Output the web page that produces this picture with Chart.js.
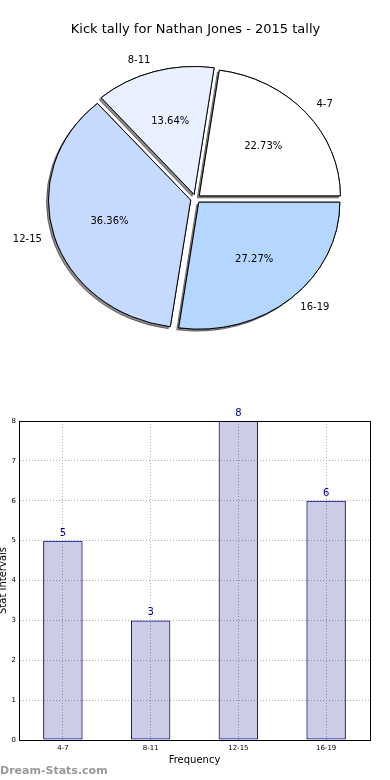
<!DOCTYPE html>
<html>
<head>
<meta charset="utf-8">
<script src="https://cdn.jsdelivr.net/npm/chart.js@4.4.1/dist/chart.umd.min.js"></script>
<style>
  body { margin: 0; background: #fff; width: 390px; height: 780px; position: relative; overflow: hidden; }
  #pieChart { position: absolute; left: 0; top: 0; }
  #barChart { position: absolute; left: 0; top: 390px; }
  #brand { position: absolute; left: 0; top: 764px; font: bold 11px "DejaVu Sans", sans-serif; color: #999; }
</style>
</head>
<body>
<canvas id="pieChart" width="390" height="390"></canvas>
<canvas id="barChart" width="390" height="390"></canvas>
<div id="brand">Dream-Stats.com</div>
<script>
// --- Data ---
const TITLE = 'Kick tally for Nathan Jones - 2015 tally';
const intervals = ['4-7', '8-11', '12-15', '16-19'];
const tally = [5, 3, 8, 6];
const sliceColors = ['#ffffff', '#e9f0ff', '#c6d9ff', '#b4d6ff'];
const Y_MAX = 8;

// --- Look ---
const FONT = 'DejaVu Sans';
const ELLIPSE_Y = 0.9;   // the pie is squashed a little vertically
const EXPLODE = 20;      // arc offset, chart.js moves the slice by a quarter of it
// chart.js goes clockwise, the original goes counter-clockwise from 3 o'clock
const pieOrder = [3, 2, 1, 0];

const total = tally.reduce((a, b) => a + b, 0);

const pieShape = {
    id: 'pieShape',
    beforeDatasetsDraw(chart) {
        const ctx = chart.ctx;
        const arcs = chart.getDatasetMeta(0).data;
        const cx = arcs[0].x, cy = arcs[0].y;
        ctx.save();
        ctx.translate(cx, cy);
        ctx.scale(1, ELLIPSE_Y);
        ctx.translate(-cx, -cy);
        // shadow pass, the normal draw covers it afterwards
        ctx.save();
        ctx.shadowColor = 'rgba(0,0,0,0.45)';
        ctx.shadowOffsetX = -2;
        ctx.shadowOffsetY = 2;
        ctx.shadowBlur = 0;
        arcs.forEach(a => a.draw(ctx));
        ctx.restore();
    },
    afterDatasetsDraw(chart) {
        const ctx = chart.ctx;
        ctx.restore();
        const arcs = chart.getDatasetMeta(0).data;
        ctx.save();
        ctx.fillStyle = '#000';
        ctx.font = '10px "' + FONT + '"';
        ctx.textBaseline = 'middle';
        arcs.forEach((a, i) => {
            const k = pieOrder[i];
            const mid = (a.startAngle + a.endAngle) / 2;
            const shift = (a.options.offset || 0) / 4;
            const R = a.outerRadius;
            const px = r => a.x + Math.cos(mid) * (shift + r);
            const py = r => a.y + Math.sin(mid) * (shift + r) * ELLIPSE_Y;
            ctx.textAlign = Math.cos(mid) > 0 ? 'left' : 'right';
            ctx.fillText(intervals[k], px(1.1 * R), py(1.1 * R));
            ctx.textAlign = 'center';
            ctx.fillText((tally[k] / total * 100).toFixed(2) + '%', px(0.6 * R), py(0.6 * R));
        });
        ctx.restore();
    }
};

const barExtras = {
    id: 'barExtras',
    afterDatasetsDraw(chart) {
        const { ctx, chartArea: a } = chart;
        ctx.save();
        ctx.strokeStyle = '#000';
        ctx.lineWidth = 1;
        ctx.strokeRect(a.left + 0.5, a.top + 0.5, a.width, a.height);
        ctx.fillStyle = '#000080';
        ctx.font = '10px "' + FONT + '"';
        ctx.textAlign = 'center';
        ctx.textBaseline = 'alphabetic';
        chart.getDatasetMeta(0).data.forEach((bar, i) => {
            ctx.fillText(String(tally[i]), bar.x, bar.y - 5);
        });
        ctx.restore();
    }
};

new Chart(document.getElementById('pieChart'), {
    type: 'pie',
    data: {
        labels: pieOrder.map(i => intervals[i]),
        datasets: [{
            data: pieOrder.map(i => tally[i]),
            backgroundColor: pieOrder.map(i => sliceColors[i]),
            borderColor: '#000',
            borderWidth: 1,
            borderJoinStyle: 'miter',
            offset: EXPLODE,
            clip: false
        }]
    },
    options: {
        responsive: false,
        animation: false,
        rotation: 90,
        radius: 141,
        layout: { padding: { left: 1, right: 0, top: 0, bottom: 40 } },
        plugins: {
            legend: { display: false },
            tooltip: { enabled: false },
            title: {
                display: true, text: TITLE, color: '#000',
                font: { family: FONT, size: 13, weight: 'normal' },
                padding: { top: 22, bottom: 10 }
            }
        }
    },
    plugins: [pieShape]
});

const tickFont = { family: FONT, size: 7 };
const titleFont = { family: FONT, size: 10 };

new Chart(document.getElementById('barChart'), {
    type: 'bar',
    data: {
        labels: intervals,
        datasets: [{
            data: tally,
            backgroundColor: 'rgba(0,0,128,0.2)',
            borderColor: '#000080',
            borderWidth: 1,
            borderSkipped: false,
            barPercentage: 0.45,
            categoryPercentage: 1
        }]
    },
    options: {
        responsive: false,
        animation: false,
        layout: { padding: { left: 0, right: 20, top: 31, bottom: 0 } },
        plugins: { legend: { display: false }, tooltip: { enabled: false } },
        scales: {
            x: {
                grid: { offset: false, color: '#b0b0b0', drawTicks: false },
                border: { color: '#000', dash: [1, 2] },
                ticks: { font: tickFont, color: '#000', padding: 4 },
                title: { display: true, text: 'Frequency', color: '#000', font: titleFont, padding: { top: 0, bottom: 14 } },
                afterFit(s) { s.height = 40; }
            },
            y: {
                min: 0, max: Y_MAX,
                grid: { color: '#b0b0b0', drawTicks: false },
                border: { color: '#000', dash: [1, 2] },
                ticks: { stepSize: 1, font: tickFont, color: '#000', padding: 3 },
                title: { display: true, text: 'Stat Intervals', color: '#000', font: titleFont, padding: { top: -3, bottom: 0 } },
                afterFit(s) { s.width = 19; }
            }
        }
    },
    plugins: [barExtras]
});
</script>
</body>
</html>
